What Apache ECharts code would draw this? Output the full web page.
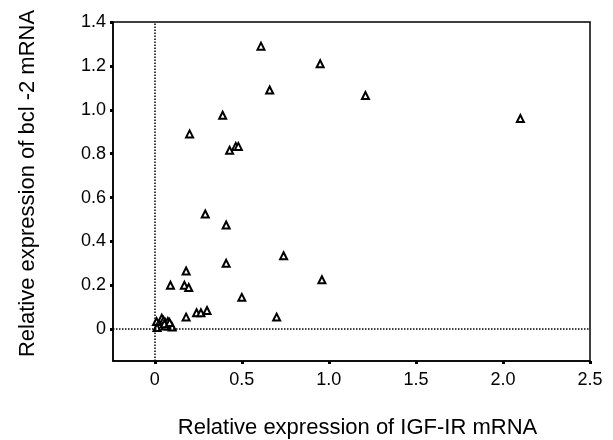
<!DOCTYPE html>
<html>

<head>
    <meta charset="UTF-8" />
    <script src="https://cdn.jsdelivr.net/npm/echarts@6/dist/echarts.min.js"></script>
</head>

<body style="margin: 0; overflow: hidden; background: #fff">
    <div id="chart" style="width: 613px; height: 440px"></div>
    <script type="text/javascript">

        // IGF-IR (x) vs bcl-2 (y)
        const igfVals = [0.61, 0.95, 0.66, 1.21, 2.10, 0.39, 0.20, 0.465, 0.48, 0.43,
            0.29, 0.41, 0.41, 0.74, 0.18, 0.09, 0.17, 0.195, 0.50, 0.96,
            0.18, 0.24, 0.265, 0.30, 0.70,
            0.01, 0.013, 0.04, 0.05, 0.06, 0.07, 0.08, 0.09, 0.06, 0.075, 0.10, 0.055, 0.085];
        const bclVals = [1.29, 1.21, 1.09, 1.065, 0.96, 0.975, 0.89, 0.833, 0.833, 0.815,
            0.525, 0.475, 0.30, 0.335, 0.265, 0.20, 0.20, 0.19, 0.145, 0.225,
            0.055, 0.075, 0.075, 0.085, 0.055,
            0.035, 0.008, 0.05, 0.04, 0.03, 0.02, 0.015, 0.02, 0.015, 0.035, 0.01, 0.025, 0.03];

        const xTicks = [0, 0.5, 1.0, 1.5, 2.0, 2.5];
        const xTickLabels = ['0', '0.5', '1.0', '1.5', '2.0', '2.5'];
        const yTicks = [0, 0.2, 0.4, 0.6, 0.8, 1.0, 1.2, 1.4];
        const yTickLabels = ['0', '0.2', '0.4', '0.6', '0.8', '1.0', '1.2', '1.4'];

        const points = igfVals.map((x, i) => [x, bclVals[i]]);
        const font = 'Liberation Sans';

        const myChart = echarts.init(document.getElementById('chart'));

        const option = {
            animation: false,
            grid: {
                left: 113, right: 23, top: 22, bottom: 79,
                outerBoundsMode: 'none',
                show: true, borderColor: '#000', borderWidth: 1.5
            },
            xAxis: {
                type: 'value',
                min: -0.24,
                max: 2.5,
                splitLine: { show: false },
                axisLine: { onZero: false, lineStyle: { color: '#000', width: 1.5 } },
                axisTick: { customValues: xTicks, length: 3, lineStyle: { color: '#000', width: 3 } },
                axisLabel: {
                    customValues: xTicks,
                    formatter: (v) => xTickLabels[xTicks.indexOf(v)],
                    fontSize: 18, color: '#000', fontFamily: font, margin: 10
                },
                name: 'Relative expression of IGF-IR mRNA',
                nameLocation: 'middle',
                nameGap: 56,
                nameTextStyle: { fontSize: 22, color: '#000', fontFamily: font, padding: [0, 0, 0, 12] }
            },
            yAxis: {
                type: 'value',
                min: -0.145,
                max: 1.4,
                splitLine: { show: false },
                axisLine: { onZero: false, lineStyle: { color: '#000', width: 1.5 } },
                axisTick: { customValues: yTicks, length: 3, lineStyle: { color: '#000', width: 3 } },
                axisLabel: {
                    customValues: yTicks,
                    formatter: (v) => yTickLabels[yTicks.indexOf(v)],
                    fontSize: 18, color: '#000', fontFamily: font, margin: 7
                },
                name: 'Relative expression of bcl -2 mRNA',
                nameLocation: 'middle',
                nameGap: 74,
                nameTextStyle: { fontSize: 22, color: '#000', fontFamily: font, padding: [0, 0, 0, 16] }
            },
            series: [{
                type: 'scatter',
                data: points,
                symbol: 'triangle',
                symbolSize: [7, 7],
                itemStyle: { color: '#fff', borderColor: '#000', borderWidth: 2, opacity: 1 },
                markLine: {
                    silent: true,
                    symbol: 'none',
                    label: { show: false },
                    lineStyle: { color: '#000', type: 'dotted', width: 1.5 },
                    data: [{ xAxis: 0 }, { yAxis: 0 }]
                }
            }]
        };

        myChart.setOption(option);

    </script>
</body>

</html>
